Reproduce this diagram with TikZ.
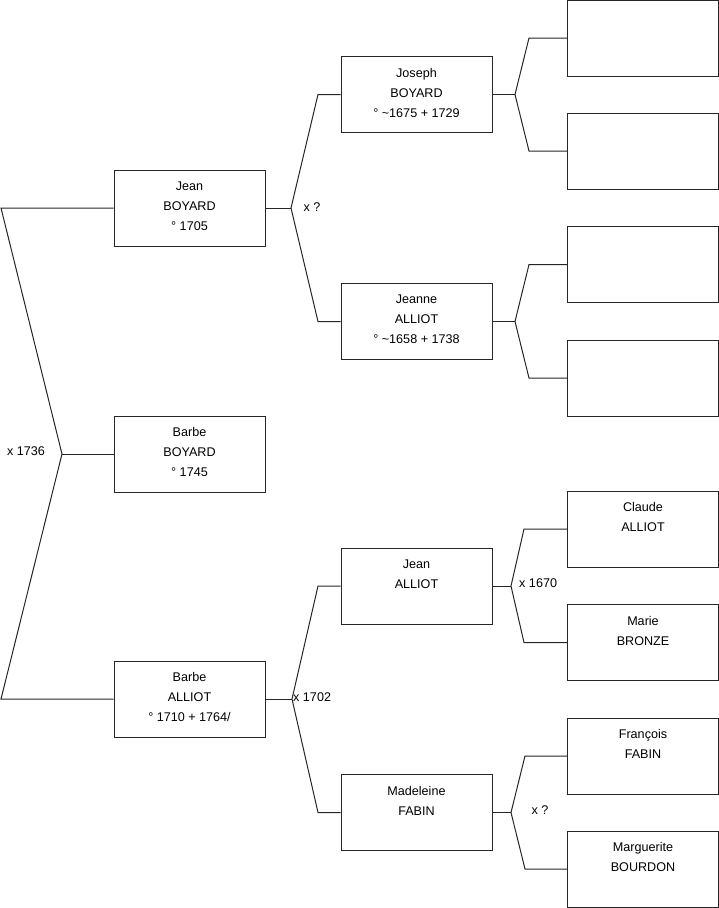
\documentclass[tikz,border=0pt]{standalone}
\usepackage{fontspec}
\setmainfont{Liberation Sans}
\newcommand\lowpad{\rule[-4pt]{0pt}{4pt}}
\tikzset{
  person/.style={draw=black!85, line width=1pt, minimum width=151pt, minimum height=76pt,
    inner sep=0pt, align=center, font=\fontsize{12.6}{20}\selectfont},
  link/.style={draw=black!85, line width=1pt},
  union/.style={font=\fontsize{12.6}{14}\selectfont, inner sep=0pt}
}
\begin{document}
\begin{tikzpicture}[x=1pt,y=-1pt]
\useasboundingbox (0,0) rectangle (719,908);
% level 1
\node[person] (jeanB) at (189.5,208) {Jean\\BOYARD\\° 1705\lowpad};
\node[person] (barbeB) at (189.5,454) {Barbe\\BOYARD\\° 1745\lowpad};
\node[person] (barbeA) at (189.5,699) {Barbe\\ALLIOT\\° 1710 + 1764/\lowpad};
% level 2
\node[person] (joseph) at (416.5,94.5) {Joseph\\BOYARD\\° \textasciitilde1675 + 1729\lowpad};
\node[person] (jeanne) at (416.5,321.5) {Jeanne\\ALLIOT\\° \textasciitilde1658 + 1738\lowpad};
\node[person] (jeanA) at (416.5,586) {Jean\\ALLIOT\\\mbox{}\lowpad};
\node[person] (madeleine) at (416.5,812.5) {Madeleine\\FABIN\\\mbox{}\lowpad};
% level 3
\node[person] (p1) at (643,38) {};
\node[person] (p2) at (643,151) {};
\node[person] (p3) at (643,264.5) {};
\node[person] (p4) at (643,378) {};
\node[person] (claude) at (643,529) {Claude\\ALLIOT\\\mbox{}\lowpad};
\node[person] (marie) at (643,642.5) {Marie\\BRONZE\\\mbox{}\lowpad};
\node[person] (francois) at (643,756) {François\\FABIN\\\mbox{}\lowpad};
\node[person] (marguerite) at (643,869) {Marguerite\\BOURDON\\\mbox{}\lowpad};
% root union
\coordinate (r1) at (1,208);
\coordinate (r2) at (1,699);
\coordinate (v0) at (62,454);
\draw[link] (jeanB.west) -- (r1) -- (v0) -- (r2) -- (barbeA.west);
\draw[link] (v0) -- (barbeB.west);
\node[union] (u0) at (26,451) {x 1736};
% Jean BOYARD parents
\coordinate (v1) at (291,208);
\coordinate (v1a) at (318,94.5);
\coordinate (v1b) at (318,321.5);
\draw[link] (jeanB.east) -- (v1);
\draw[link] (joseph.west) -- (v1a) -- (v1) -- (v1b) -- (jeanne.west);
\node[union] (u1) at (312,207) {x ?};
% Joseph parents
\coordinate (v2) at (515,94.5);
\coordinate (v2a) at (529,38);
\coordinate (v2b) at (529,151);
\draw[link] (joseph.east) -- (v2);
\draw[link] (p1.west) -- (v2a) -- (v2) -- (v2b) -- (p2.west);
% Jeanne parents
\coordinate (v3) at (515,321.5);
\coordinate (v3a) at (529,264.5);
\coordinate (v3b) at (529,378);
\draw[link] (jeanne.east) -- (v3);
\draw[link] (p3.west) -- (v3a) -- (v3) -- (v3b) -- (p4.west);
% Barbe ALLIOT parents
\coordinate (v4) at (292,699);
\coordinate (v4a) at (318,586);
\coordinate (v4b) at (318,812.5);
\draw[link] (barbeA.east) -- (v4);
\draw[link] (jeanA.west) -- (v4a) -- (v4) -- (v4b) -- (madeleine.west);
\node[union, anchor=west] (u4) at (293,697) {x 1702};
% Jean ALLIOT parents
\coordinate (v5) at (511,586);
\coordinate (v5a) at (524,529);
\coordinate (v5b) at (524,642.5);
\draw[link] (jeanA.east) -- (v5);
\draw[link] (claude.west) -- (v5a) -- (v5) -- (v5b) -- (marie.west);
\node[union, anchor=west] (u5) at (519,583) {x 1670};
% Madeleine parents
\coordinate (v6) at (511,812.5);
\coordinate (v6a) at (525,756);
\coordinate (v6b) at (525,869);
\draw[link] (madeleine.east) -- (v6);
\draw[link] (francois.west) -- (v6a) -- (v6) -- (v6b) -- (marguerite.west);
\node[union] (u6) at (540,810) {x ?};
\end{tikzpicture}
\end{document}
